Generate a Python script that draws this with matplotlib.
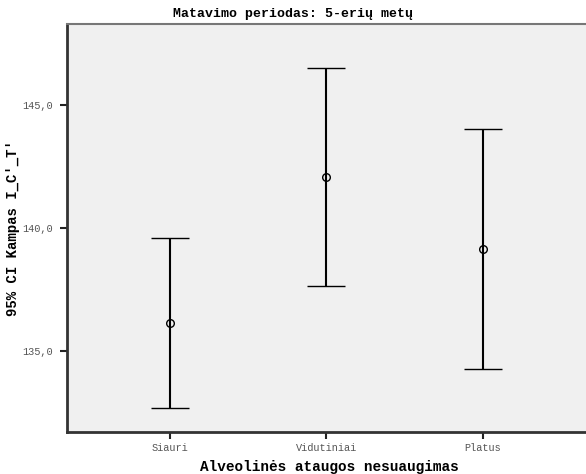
import matplotlib
matplotlib.use("Agg")
import matplotlib.pyplot as plt

categories = ["Siauri", "Vidutiniai", "Platus"]
means = [136.15, 142.07, 139.15]
ci_lower = [132.68, 137.64, 134.27]
ci_upper = [139.59, 146.51, 144.03]
y_ticks = [135.0, 140.0, 145.0]
y_tick_labels = ["135,0", "140,0", "145,0"]

mono = ["Liberation Mono", "DejaVu Sans Mono"]

fig = plt.figure(figsize=(5.86, 4.74), dpi=100)
ax_left = 67 / 586
ax_width = 1 - ax_left + 0.01
ax = fig.add_axes([ax_left, 1 - 432 / 474, ax_width, (432 - 24) / 474])
ax.set_facecolor("#f0f0f0")

x = list(range(len(categories)))
err_low = [m - l for m, l in zip(means, ci_lower)]
err_high = [u - m for m, u in zip(means, ci_upper)]
ax.errorbar(x, means, yerr=[err_low, err_high], fmt="o", color="black",
            markerfacecolor="none", markersize=5.5, markeredgewidth=1.0,
            elinewidth=1.5, capsize=13.7, capthick=1.5)

ax.set_xlim(-0.662, 2.7)
ax.set_ylim(131.7, 148.3)
ax.set_xticks(x)
ax.set_xticklabels(categories, family=mono, fontsize=7.4, color="#555555")
ax.set_yticks(y_ticks)
ax.set_yticklabels(y_tick_labels, family=mono, fontsize=7.4, color="#555555")
ax.tick_params(direction="out", length=5, width=1.5, color="#222222", pad=5)
ax.tick_params(axis="x", pad=3)

for side in ["left", "bottom"]:
    ax.spines[side].set_linewidth(2)
    ax.spines[side].set_color("#333333")
ax.spines["top"].set_linewidth(1.5)
ax.spines["top"].set_color("#777777")
ax.spines["right"].set_visible(False)

ax.set_xlabel("Alveolinės ataugos nesuaugimas", family=mono, fontsize=10.4,
              fontweight="bold", labelpad=5)
ax.set_ylabel("95% CI Kampas I_C'_T'", family=mono, fontsize=10.1,
              fontweight="bold", va="center")
ax.yaxis.set_label_coords(-54 / (586 * ax_width), 0.5)
fig.text(0.5, 1 - 14 / 474, "Matavimo periodas: 5-erių metų", family=mono,
         fontsize=9.5, fontweight="bold", ha="center", va="center")

fig.savefig("out.png", dpi=100)
